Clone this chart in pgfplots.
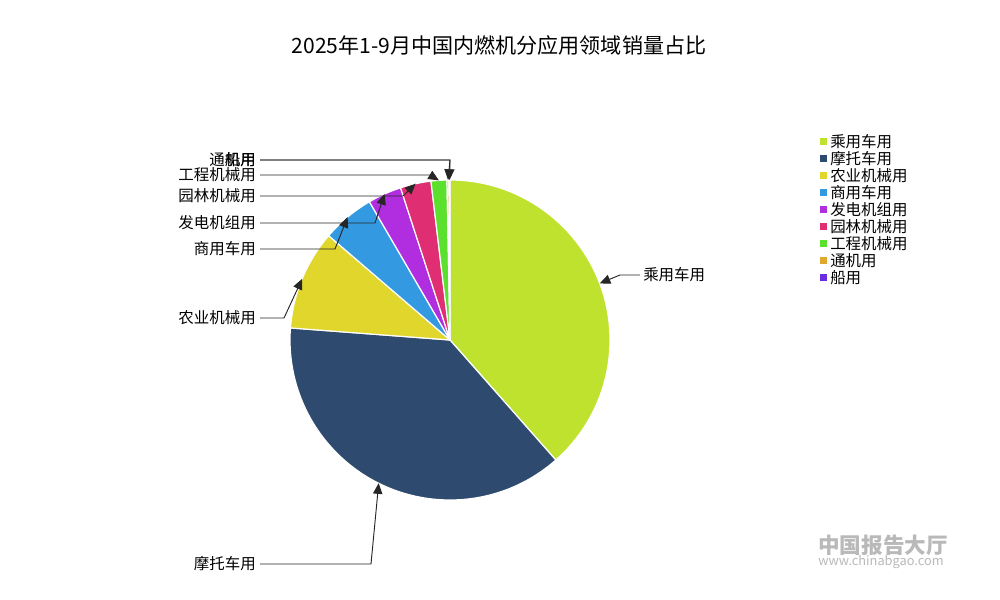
\documentclass[border=0pt]{standalone}
\usepackage{fontspec}
\setmainfont{Noto Sans CJK SC}
\usepackage{pgfplots}
\pgfplotsset{compat=1.18}
\usepackage{pgfplotstable}
\usetikzlibrary{arrows.meta}

\definecolor{c0}{RGB}{190,226,46}
\definecolor{c1}{RGB}{46,74,110}
\definecolor{c2}{RGB}{224,214,44}
\definecolor{c3}{RGB}{51,153,224}
\definecolor{c4}{RGB}{176,46,224}
\definecolor{c5}{RGB}{224,46,114}
\definecolor{c6}{RGB}{91,224,46}
\definecolor{c7}{RGB}{224,168,46}
\definecolor{c8}{RGB}{106,46,224}

% share (%) of each application, clockwise from 12 o'clock
\pgfplotstableread{
idx value
0 38.5
1 37.7
2 10.1
3 5.3
4 3.4
5 3.1
6 1.6
7 0.2
8 0.1
}\piedata

\begin{document}
\begin{tikzpicture}
\begin{axis}[scale only axis, width=750pt, height=450pt,
  xmin=0, xmax=1000, ymin=0, ymax=600, hide axis, clip=false]
\fill[white] (axis cs:0,0) rectangle (axis cs:1000,600);

% pie slices
\def\cum{0}
\pgfplotsforeachungrouped \i in {0,...,8}{%
  \pgfplotstablegetelem{\i}{value}\of\piedata
  \let\sv\pgfplotsretval
  \pgfmathsetmacro\aone{90-3.6*\cum}%
  \pgfmathsetmacro\atwo{90-3.6*(\cum+\sv)}%
  \pgfmathsetmacro\cum{\cum+\sv}%
  \edef\temp{\noexpand\filldraw[fill=c\i, draw=white, line width=0.9pt, line join=round] (axis cs:450,260) -- ++(\aone:120pt) arc[start angle=\aone, end angle=\atwo, radius=120pt] -- cycle;}%
  \temp
}

% title
\node[font=\fontsize{15.8pt}{18pt}\selectfont] at (axis cs:499,555) {2025年1-9月中国内燃机分应用领域销量占比};

% label lines
\tikzset{lab/.style={line width=0.7pt, draw=black!85, -{Triangle[length=8pt,width=7pt]}}}
\tikzset{lt/.style={font=\fontsize{11.6pt}{13pt}\selectfont, inner sep=0pt}}
\draw[lab] (axis cs:640,325) -- (axis cs:620,325) -- (axis cs:599.7,316.6);
\node[lt, anchor=west] at (axis cs:643,325) {乘用车用};
\draw[lab] (axis cs:260,36) -- (axis cs:371,36) -- (axis cs:378.7,116.8);
\node[lt, anchor=east] at (axis cs:256,36) {摩托车用};
\draw[lab] (axis cs:260,282) -- (axis cs:284,282) -- (axis cs:302.2,321.2);
\node[lt, anchor=east] at (axis cs:256,282) {农业机械用};
\draw[lab] (axis cs:260,351) -- (axis cs:335,351) -- (axis cs:347.6,383);
\node[lt, anchor=east] at (axis cs:256,351) {商用车用};
\draw[lab] (axis cs:260,377) -- (axis cs:375,377) -- (axis cs:384.6,406);
\node[lt, anchor=east] at (axis cs:256,377) {发电机组用};
\draw[lab] (axis cs:260,404) -- (axis cs:403,404) -- (axis cs:415.6,416.3);
\node[lt, anchor=east] at (axis cs:256,404) {园林机械用};
\draw[lab] (axis cs:260,425) -- (axis cs:430,425) -- (axis cs:438.9,419.6);
\node[lt, anchor=east] at (axis cs:256,425) {工程机械用};
\draw[lab] (axis cs:260,440) -- (axis cs:450,440) -- (axis cs:448,420);
\node[lt, anchor=east] at (axis cs:256,440) {通机用};
\draw[lab] (axis cs:260,440) -- (axis cs:450,440) -- (axis cs:449.5,420);
\node[lt, anchor=east] at (axis cs:256,440) {船用};

% legend
\pgfplotsforeachungrouped \k/\nm in {0/乘用车用,1/摩托车用,2/农业机械用,3/商用车用,4/发电机组用,5/园林机械用,6/工程机械用,7/通机用,8/船用}{%
  \pgfmathsetmacro\ly{458-17*\k}%
  \pgfmathsetmacro\lya{\ly-3.5}%
  \pgfmathsetmacro\lyb{\ly+3.5}%
  \edef\temp{\noexpand\fill[c\k] (axis cs:820,\lya) rectangle (axis cs:827,\lyb);
    \noexpand\node[lt, anchor=west] at (axis cs:830,\ly) {\nm};}%
  \temp
}

% watermark
\node[gray!55, font=\fontsize{16.2pt}{18pt}\selectfont\bfseries, anchor=west, inner sep=0pt] at (axis cs:818,55) {中国报告大厅};
\node[gray!55, font=\fontsize{9.6pt}{11pt}\selectfont, anchor=west, inner sep=0pt] at (axis cs:818,38) {www.chinabgao.com};
\end{axis}
\end{tikzpicture}
\end{document}
